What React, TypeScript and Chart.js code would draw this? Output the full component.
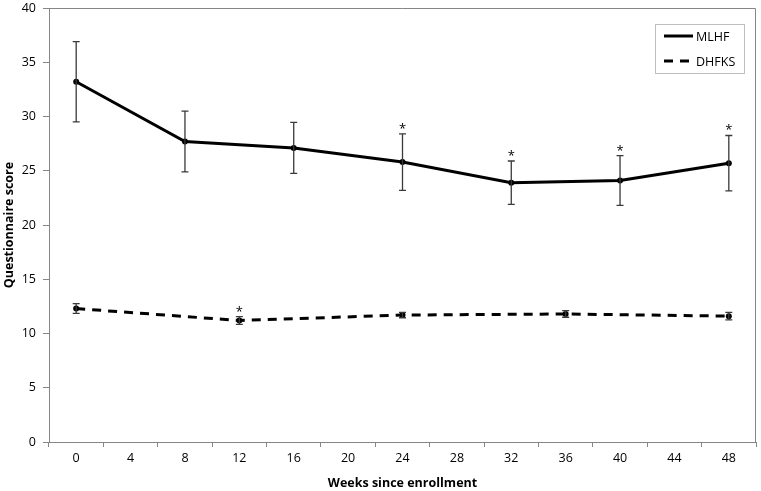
import React, { useEffect, useRef } from "react";
import { Chart, registerables } from "chart.js";

Chart.register(...registerables);

const weekLabels = ["0", "4", "8", "12", "16", "20", "24", "28", "32", "36", "40", "44", "48"];

const mlhfWeeks = ["0", "8", "16", "24", "32", "40", "48"];
const mlhfMean = [33.2, 27.7, 27.1, 25.8, 23.9, 24.1, 25.7];
const mlhfErr = [3.7, 2.8, 2.35, 2.6, 2.0, 2.3, 2.55];
const mlhfSig = [false, false, false, true, true, true, true];

const dhfksWeeks = ["0", "12", "24", "36", "48"];
const dhfksMean = [12.3, 11.2, 11.7, 11.8, 11.6];
const dhfksErr = [0.45, 0.35, 0.25, 0.3, 0.35];
const dhfksSig = [false, true, false, false, false];

const yTicks = [0, 5, 10, 15, 20, 25, 30, 35, 40];

const FONT = "'Open Sans', 'Noto Sans', sans-serif";

const errorBarPlugin = {
  id: "errorBars",
  afterDatasetsDraw(chart: any) {
    const ctx = chart.ctx;
    const yScale = chart.scales.y;
    chart.data.datasets.forEach((ds: any, di: number) => {
      const meta = chart.getDatasetMeta(di);
      ctx.save();
      ctx.strokeStyle = "#3a3a3a";
      ctx.lineWidth = 1.3;
      ctx.setLineDash([]);
      meta.data.forEach((pt: any, i: number) => {
        const mean = ds.data[i].y;
        const err = ds.errors[i];
        const x = pt.x;
        const yt = yScale.getPixelForValue(mean + err);
        const yb = yScale.getPixelForValue(mean - err);
        ctx.beginPath();
        ctx.moveTo(x, yt);
        ctx.lineTo(x, yb);
        ctx.moveTo(x - 3.5, yt);
        ctx.lineTo(x + 3.5, yt);
        ctx.moveTo(x - 3.5, yb);
        ctx.lineTo(x + 3.5, yb);
        ctx.stroke();
        if (ds.sig[i]) {
          ctx.fillStyle = "#000";
          ctx.font = `13px ${FONT}`;
          ctx.textAlign = "center";
          ctx.textBaseline = "alphabetic";
          ctx.fillText("*", x, yt - 1);
        }
      });
      ctx.restore();
    });
  },
};

const frameLegendPlugin = {
  id: "frameLegend",
  afterDraw(chart: any) {
    const ctx = chart.ctx;
    const a = chart.chartArea;
    ctx.save();
    ctx.strokeStyle = "#868686";
    ctx.lineWidth = 1;
    ctx.beginPath();
    ctx.moveTo(a.left, a.top + 0.5);
    ctx.lineTo(a.right - 0.5, a.top + 0.5);
    ctx.lineTo(a.right - 0.5, a.bottom);
    ctx.stroke();

    const bx = a.right - 101;
    const by = a.top + 16;
    const bw = 89;
    const bh = 49;
    ctx.strokeStyle = "#bfbfbf";
    ctx.strokeRect(bx + 0.5, by + 0.5, bw, bh);
    ctx.font = `12.5px ${FONT}`;
    ctx.textAlign = "left";
    ctx.textBaseline = "middle";
    ctx.fillStyle = "#000";
    chart.data.datasets.forEach((ds: any, i: number) => {
      const ly = by + 12 + i * 25;
      ctx.beginPath();
      ctx.strokeStyle = "#000";
      ctx.lineWidth = 3;
      ctx.setLineDash(ds.borderDash || []);
      ctx.moveTo(bx + 9, ly);
      ctx.lineTo(bx + 38, ly);
      ctx.stroke();
      ctx.setLineDash([]);
      ctx.fillText(ds.label, bx + 41, ly + 1);
    });
    ctx.restore();
  },
};

export default function App() {
  const ref = useRef<HTMLCanvasElement>(null);
  useEffect(() => {
    document.body.style.margin = "0";
    const chart = new Chart(ref.current!, {
      type: "line",
      data: {
        labels: weekLabels,
        datasets: [
          {
            label: "MLHF",
            data: mlhfWeeks.map((w, i) => ({ x: w, y: mlhfMean[i] })),
            errors: mlhfErr,
            sig: mlhfSig,
            borderColor: "#000",
            backgroundColor: "#000",
            borderWidth: 3,
            pointRadius: 3,
            pointBorderWidth: 0,
            spanGaps: true,
          } as any,
          {
            label: "DHFKS",
            data: dhfksWeeks.map((w, i) => ({ x: w, y: dhfksMean[i] })),
            errors: dhfksErr,
            sig: dhfksSig,
            borderColor: "#000",
            backgroundColor: "#000",
            borderWidth: 3,
            borderDash: [9, 7],
            pointRadius: 3,
            pointBorderWidth: 0,
            spanGaps: true,
          } as any,
        ],
      },
      options: {
        animation: false,
        responsive: false,
        maintainAspectRatio: false,
        layout: { padding: { top: 8, right: 5, left: 0, bottom: 0 } },
        plugins: { legend: { display: false }, tooltip: { enabled: false } },
        scales: {
          x: {
            type: "category",
            offset: true,
            grid: {
              offset: true,
              drawOnChartArea: false,
              drawTicks: true,
              tickLength: 5,
              color: "#868686",
            },
            border: { display: true, color: "#868686", width: 1 },
            ticks: { color: "#000", font: { family: FONT, size: 12.5 }, padding: 4, maxRotation: 0, autoSkip: false },
            title: {
              display: true,
              text: "Weeks since enrollment",
              color: "#000",
              font: { family: FONT, size: 12.5, weight: "bold" },
              padding: { top: 2, bottom: 0 },
            },
            afterFit: (s: any) => {
              s.height = 49;
              s.paddingLeft = 0;
              s.paddingRight = 0;
            },
          },
          y: {
            min: 0,
            max: 40,
            afterBuildTicks: (s: any) => {
              s.ticks = yTicks.map((v) => ({ value: v }));
            },
            grid: { drawOnChartArea: false, drawTicks: true, tickLength: 6, color: "#868686" },
            border: { display: true, color: "#868686", width: 1 },
            ticks: { color: "#000", font: { family: FONT, size: 12.5 }, padding: 7 },
            title: {
              display: true,
              text: "Questionnaire score",
              color: "#000",
              font: { family: FONT, size: 12.5, weight: "bold" },
              padding: { top: 2, bottom: 0 },
            },
            afterFit: (s: any) => {
              s.width = 49;
              s.paddingTop = 0;
              s.paddingBottom = 0;
            },
          },
        },
      } as any,
      plugins: [errorBarPlugin, frameLegendPlugin],
    });
    return () => chart.destroy();
  }, []);
  return (
    <div style={{ width: 761, height: 491 }}>
      <canvas ref={ref} width={761} height={491} style={{ display: "block" }} />
    </div>
  );
}
